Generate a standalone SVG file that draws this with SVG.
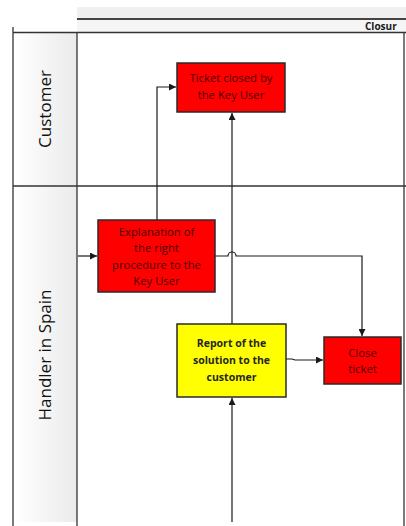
<svg xmlns="http://www.w3.org/2000/svg" width="406" height="526" viewBox="0 0 406 526">
  <defs>
    <linearGradient id="laneHead" x1="0" y1="0" x2="1" y2="0">
      <stop offset="0" stop-color="#ffffff"/>
      <stop offset="1" stop-color="#ebebeb"/>
    </linearGradient>
    <marker id="arrow" viewBox="0 0 10 10" refX="10" refY="5" markerWidth="7" markerHeight="7" markerUnits="userSpaceOnUse" orient="auto">
      <path d="M0,0 L10,5 L0,10 z" fill="#1a1a1a"/>
    </marker>
    <style>
      .frame { stroke: #333; stroke-width: 1.3; fill: none; }
      .lane-label { font-family: "Open Sans", "DejaVu Sans", sans-serif; font-size: 17px; fill: #111; text-anchor: middle; }
      .box { stroke: #2a2a2a; stroke-width: 1.5; }
      .red { fill: #ff0000; }
      .yellow { fill: #ffff00; }
      .txt-red { font-family: "Open Sans", "DejaVu Sans", sans-serif; font-size: 11.3px; fill: #4a0000; text-anchor: middle; }
      .txt-bold { font-family: "Open Sans", "DejaVu Sans", sans-serif; font-size: 10.5px; font-weight: bold; fill: #262626; text-anchor: middle; }
      .conn { stroke: #1a1a1a; stroke-width: 1.2; fill: none; }
    </style>
  </defs>

  <rect width="406" height="526" fill="#ffffff"/>

  <!-- phase header -->
  <g id="header">
    <rect x="77" y="7" width="329" height="12" fill="#f0f0f0"/>
    <line x1="77" y1="19" x2="406" y2="19" stroke="#444" stroke-width="1.8"/>
    <rect x="77" y="20" width="329" height="12.5" fill="#f5f5f5"/>
    <text x="365" y="29.5" font-family="Open Sans, DejaVu Sans, sans-serif" font-size="10" font-weight="bold" fill="#1a1a1a">Closur</text>
  </g>

  <!-- swimlanes -->
  <g id="lane-customer">
    <rect x="13" y="33" width="64" height="153" fill="url(#laneHead)"/>
    <text class="lane-label" transform="translate(51,109) rotate(-90)">Customer</text>
  </g>
  <g id="lane-handler">
    <rect x="13" y="186" width="64" height="336" fill="url(#laneHead)"/>
    <text class="lane-label" transform="translate(51,355) rotate(-90)">Handler in Spain</text>
  </g>
  <g id="lane-lines">
    <line class="frame" x1="13" y1="27" x2="13" y2="526"/>
    <line class="frame" x1="77" y1="33" x2="77" y2="526"/>
    <line class="frame" x1="13" y1="32.5" x2="406" y2="32.5"/>
    <line class="frame" x1="13" y1="186" x2="406" y2="186"/>
    <line class="frame" x1="404" y1="33" x2="404" y2="526"/>
  </g>

  <!-- connectors -->
  <g id="connectors">
    <path class="conn" d="M157,220 V87 H176" marker-end="url(#arrow)"/>
    <path class="conn" d="M232,324 V113" marker-end="url(#arrow)"/>
    <path class="conn" d="M78,256 H97" marker-end="url(#arrow)"/>
    <path class="conn" d="M215,256 H228 A4,4 0 0 1 236,256 H362 V336" marker-end="url(#arrow)"/>
    <path class="conn" d="M286,359 H292 L295,360 H323" marker-end="url(#arrow)"/>
    <path class="conn" d="M232,522 V398" marker-end="url(#arrow)"/>
  </g>

  <!-- nodes -->
  <g id="ticket-closed">
    <rect class="box red" x="177" y="63" width="108" height="49"/>
    <text class="txt-red" x="231" y="82">Ticket closed by</text>
    <text class="txt-red" x="231" y="99">the Key User</text>
  </g>

  <g id="explanation">
    <rect class="box red" x="98" y="220" width="117" height="72"/>
    <text class="txt-red" x="156.5" y="236">Explanation of</text>
    <text class="txt-red" x="156.5" y="252">the right</text>
    <text class="txt-red" x="156.5" y="268.5">procedure to the</text>
    <text class="txt-red" x="156.5" y="285">Key User</text>
  </g>

  <g id="report">
    <rect class="box yellow" x="177" y="324" width="109" height="73"/>
    <text class="txt-bold" x="231.5" y="347">Report of the</text>
    <text class="txt-bold" x="231.5" y="364">solution to the</text>
    <text class="txt-bold" x="231.5" y="381">customer</text>
  </g>

  <g id="close-ticket">
    <rect class="box red" x="324" y="337" width="77" height="47"/>
    <text class="txt-red" x="362.5" y="357">Close</text>
    <text class="txt-red" x="362.5" y="373">ticket</text>
  </g>
</svg>
